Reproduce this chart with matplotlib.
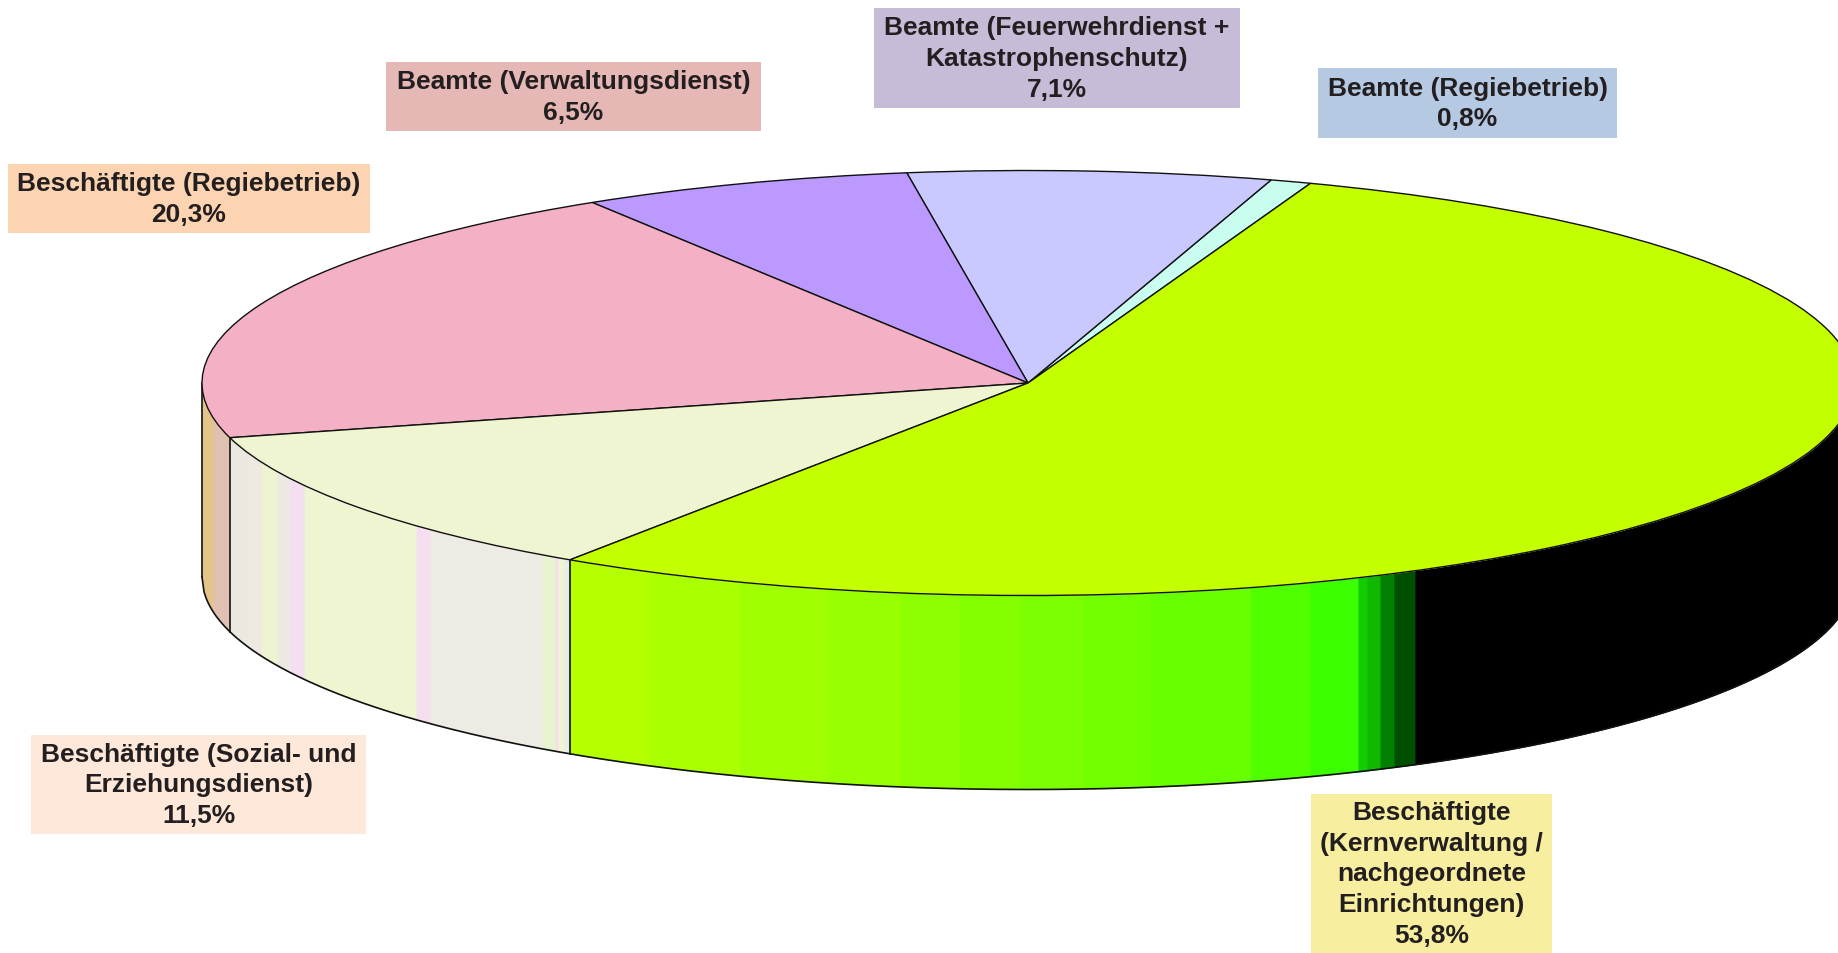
#!/usr/bin/env python
# encoding: utf-8
"""
*Flat 3D-look pie of staff groups, drawn with a squashed ax.pie plus wall bands*
"""
import numpy as np
import matplotlib
matplotlib.use("Agg")
import matplotlib.pyplot as plt
from matplotlib.patches import Rectangle
from matplotlib.transforms import Affine2D

plt.rcParams['font.family'] = ['Liberation Sans', 'DejaVu Sans']

# DATA
names = ["Beamte (Regiebetrieb)",
         "Beamte (Feuerwehrdienst +\nKatastrophenschutz)",
         "Beamte (Verwaltungsdienst)",
         "Beschäftigte (Regiebetrieb)",
         "Beschäftigte (Sozial- und\nErziehungsdienst)",
         "Beschäftigte\n(Kernverwaltung /\nnachgeordnete\nEinrichtungen)"]
shares = [0.8, 7.1, 6.5, 20.3, 11.5, 53.8]

# STYLE
top_colors = ["#c8fdf0", "#c9c8ff", "#bb99ff", "#f4b0c4", "#eff5d0", "#c4ff00"]
box_colors = ["#b5c9e3", "#c7bcd7", "#e6b8b5", "#fcd4b2", "#fde8d9", "#f7ef9f"]
# x0, x1, y0, y1 in picture pixels
boxes = [(1318, 1617, 69, 139),
         (874, 1240, 9, 109),
         (386, 761, 63, 132),
         (8, 370, 165, 234),
         (31, 366, 736, 835),
         (1311, 1552, 795, 954)]

# WALL BANDS: right edge in pixels, colour (left to right along the front)
wall_edges = [213, 229, 248, 262, 277, 290, 304, 416, 430, 542, 555, 558, 564, 570,
              650, 740, 827, 900, 960, 1020, 1083, 1150, 1250, 1310, 1358,
              1367, 1380, 1394, 1415, 1838]
wall_colors = ["#e5c48a", "#e0c0b0",
               "#ebe8e0", "#eeeae2", "#eef4d0", "#ece9e3", "#f5def0", "#eff5d0", "#f5def0",
               "#eeeae4", "#eaf3d0", "#f5def0", "#eff5d0", "#e8ecec",
               "#b4ff00", "#aaff00", "#a0ff00", "#98ff00", "#8eff00", "#84ff00", "#7cff00",
               "#72ff00", "#68ff00", "#50ff00", "#3cff00",
               "#10cc00", "#10b800", "#007f00", "#004f00", "#000000"]

# ELLIPSE GEOMETRY
cx, cy, a, b, depth = 1028, 384, 826, 212.5, 194
start_angle = 70


def front_y(x):
    # LOWER HALF OF THE TOP ELLIPSE AT PIXEL COLUMN x
    return cy + b * np.sqrt(np.clip(1 - ((x - cx) / a) ** 2, 0, 1))


fig = plt.figure(figsize=(18.38, 9.54), dpi=100)
ax = fig.add_axes([0, 0, 1, 1])

wedges, _ = ax.pie(shares, startangle=start_angle, colors=top_colors,
                   wedgeprops={"edgecolor": "#111111", "linewidth": 1.0}, normalize=True)
squash = Affine2D().scale(a, -b).translate(cx, cy) + ax.transData
for wedge in wedges:
    wedge.set_transform(squash)
    wedge.set_zorder(3)

ax.set_aspect("auto")
ax.set_xlim(0, 1838)
ax.set_ylim(954, 0)
ax.axis("off")

# SIDE WALL, EACH BAND RUNS ON UNDER THE NEXT ONE SO NO HAIRLINES SHOW
left = cx - a
for right, color in zip(wall_edges, wall_colors):
    xs = np.linspace(left, right + 2, 60)
    ax.fill_between(xs, front_y(xs), front_y(xs) + depth, color=color, lw=0, zorder=1)
    left = right

# WALL OUTLINE
xs = np.linspace(cx - a, 1838, 800)
ax.plot(xs, front_y(xs) + depth, color="#111111", lw=1.2, zorder=2)
ax.plot([cx - a, cx - a], [cy, cy + depth], color="#111111", lw=1.2, zorder=2)

# VERTICAL SEAMS AT THE SLICE BORDERS ON THE FRONT
borders = start_angle + np.cumsum(shares) * 3.6
for angle in borders:
    if 180 < angle < 360:
        x = cx + a * np.cos(np.deg2rad(angle))
        ax.plot([x, x], [front_y(x), front_y(x) + depth], color="#111111", lw=1.2, zorder=2)

# LABEL BOXES
for name, share, color, (x0, x1, y0, y1) in zip(names, shares, box_colors, boxes):
    ax.add_patch(Rectangle((x0, y0), x1 - x0, y1 - y0, facecolor=color, edgecolor="none", zorder=4))
    label = "{}\n{:.1f}%".format(name, share).replace(".", ",")
    ax.text((x0 + x1) / 2, (y0 + y1) / 2, label, ha="center", va="center", fontsize=19,
            fontweight="bold", color="#231f20", linespacing=1.35, zorder=5)

fig.savefig("out.png", dpi=100)
